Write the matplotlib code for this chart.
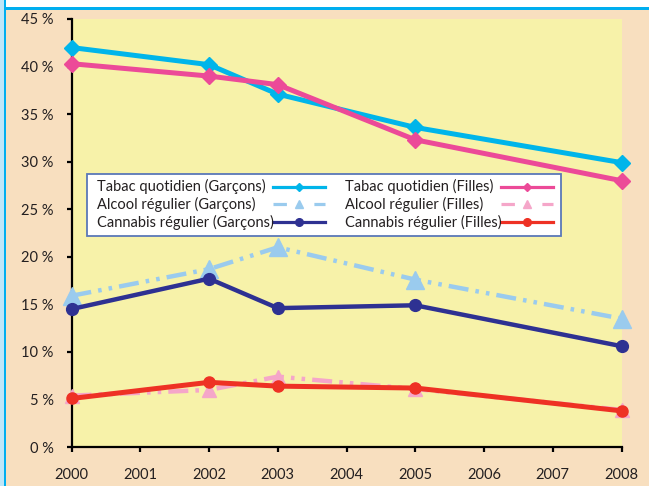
import matplotlib
matplotlib.use('Agg')
import matplotlib.pyplot as plt
from matplotlib.patches import Rectangle
from matplotlib.lines import Line2D

# ---------------- data ----------------
years = [2000, 2002, 2003, 2005, 2008]
tabac_garcons = [42.0, 40.2, 37.1, 33.6, 29.9]
tabac_filles = [40.3, 39.0, 38.1, 32.3, 28.0]
alcool_garcons = [15.9, 18.7, 21.0, 17.6, 13.5]
alcool_filles = [5.4, 6.0, 7.4, 6.1, 3.9]
cannabis_garcons = [14.5, 17.7, 14.6, 14.9, 10.6]
cannabis_filles = [5.1, 6.8, 6.4, 6.2, 3.8]
series_labels = ["Tabac quotidien (Garçons)", "Alcool régulier (Garçons)",
                 "Cannabis régulier (Garçons)", "Tabac quotidien (Filles)",
                 "Alcool régulier (Filles)", "Cannabis régulier (Filles)"]
x_ticks = list(range(2000, 2009))
y_ticks = list(range(0, 50, 5))
y_tick_labels = [f"{v} %" for v in y_ticks]

# ---------------- style ----------------
W, H = 649, 486
FONT = ['Lato', 'DejaVu Sans']
TXT = '#231F20'
BEIGE = '#F8DFBF'
YELLOW = '#F7F2A9'
C_TG = '#00B5EA'
C_TF = '#EC4A98'
C_AG = '#9ACBEE'
C_AF = '#F5A6C9'
C_CG = '#2E3192'
C_CF = '#EE3124'
DASHDOTDOT = (0, (4.5, 1.6, 0.8, 1.6, 0.8, 1.6))

plt.rcParams['font.family'] = FONT

fig = plt.figure(figsize=(W / 100, H / 100), dpi=100, facecolor=BEIGE)

def fx(x):
    return x / W

def fy(y):
    return 1 - y / H

# frame decorations
fig.patches.append(Rectangle((0, fy(7)), 1, 7 / H, transform=fig.transFigure,
                             facecolor='white', edgecolor='none', zorder=0))
fig.patches.append(Rectangle((0, fy(10)), 1, 3 / H, transform=fig.transFigure,
                             facecolor='#00AEEF', edgecolor='none', zorder=0))
fig.patches.append(Rectangle((0, 0), 4 / W, 1, transform=fig.transFigure,
                             facecolor='#BFE6F8', edgecolor='none', zorder=0))
fig.patches.append(Rectangle((4 / W, 0), 2 / W, 1, transform=fig.transFigure,
                             facecolor='#00AEEF', edgecolor='none', zorder=0))

left, right, top, bottom = 71.5, 621.5, 19, 447
ax = fig.add_axes([fx(left), fy(bottom), (right - left) / W, (bottom - top) / H])
ax.set_facecolor(YELLOW)
ax.set_xlim(2000, 2008)
ax.set_ylim(0, 45)

ax.plot(years, tabac_garcons, color=C_TG, lw=3.6, marker='D', ms=8.5,
        clip_on=False, zorder=3)
ax.plot(years, tabac_filles, color=C_TF, lw=3.6, marker='D', ms=8.5,
        clip_on=False, zorder=3)
ax.plot(years, alcool_garcons, color=C_AG, lw=3.2, linestyle=DASHDOTDOT,
        marker='^', ms=13, clip_on=False, zorder=3)
ax.plot(years, alcool_filles, color=C_AF, lw=3.2, linestyle=DASHDOTDOT,
        marker='^', ms=10.5, clip_on=False, zorder=3)
ax.plot(years, cannabis_garcons, color=C_CG, lw=3.2, marker='o', ms=8.5,
        clip_on=False, zorder=3)
ax.plot(years, cannabis_filles, color=C_CF, lw=3.6, marker='o', ms=8,
        clip_on=False, zorder=3)

for s in ['top', 'right']:
    ax.spines[s].set_visible(False)
for s in ['left', 'bottom']:
    ax.spines[s].set_linewidth(1.6)
    ax.spines[s].set_color('black')

ax.set_xticks(x_ticks)
ax.set_xticklabels([str(v) for v in x_ticks])
ax.set_yticks(y_ticks)
ax.set_yticklabels(y_tick_labels)
ax.tick_params(axis='both', direction='out', length=3.8, width=1.6, color='black',
               labelsize=10.5, labelcolor=TXT)
ax.tick_params(axis='y', pad=9)
ax.tick_params(axis='x', pad=11)

# ---------------- legend (drawn manually) ----------------
lx0, lx1, ly0, ly1 = 87.3, 560.7, 174.3, 235.7
fig.patches.append(Rectangle((fx(lx0), fy(ly1)), (lx1 - lx0) / W, (ly1 - ly0) / H,
                             transform=fig.transFigure, facecolor='white',
                             edgecolor='#5A78B8', lw=1.3, zorder=5))
rows = [186.7, 204.3, 222.3]
cols_text = [96.7, 345.0]
cols_handle = [(272.7, 325.0), (500.7, 553.3)]
styles = [
    dict(color=C_TG, marker='D', ms=4, lw=2.3, ls='-'),
    dict(color=C_AG, marker='^', ms=6, lw=2.3, ls=(0, (4.2, 8.6))),
    dict(color=C_CG, marker='o', ms=5.5, lw=2.3, ls='-'),
    dict(color=C_TF, marker='D', ms=4, lw=2.3, ls='-'),
    dict(color=C_AF, marker='^', ms=6, lw=2.3, ls=(0, (4.2, 8.6))),
    dict(color=C_CF, marker='o', ms=5.5, lw=2.3, ls='-'),
]
for i, lab in enumerate(series_labels):
    c, r = divmod(i, 3)
    y = rows[r]
    fig.text(fx(cols_text[c]), fy(y), lab, ha='left', va='center',
             fontsize=10.5, color=TXT, zorder=6)
    h0, h1 = cols_handle[c]
    st = styles[i]
    fig.add_artist(Line2D([fx(h0), fx(h1)], [fy(y), fy(y)], transform=fig.transFigure,
                          color=st['color'], lw=st['lw'], linestyle=st['ls'], zorder=6))
    fig.add_artist(Line2D([fx((h0 + h1) / 2)], [fy(y)], transform=fig.transFigure,
                          color=st['color'], marker=st['marker'], ms=st['ms'],
                          linestyle='none', zorder=7))

fig.savefig('out.png', dpi=100, facecolor=BEIGE)
